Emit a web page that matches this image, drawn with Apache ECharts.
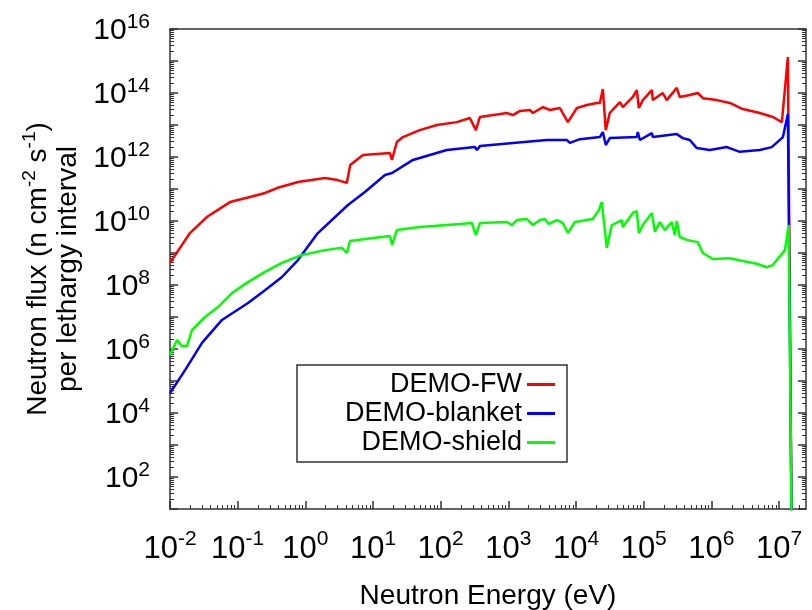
<!DOCTYPE html>
<html>
<head>
<meta charset="utf-8">
<script src="https://cdn.jsdelivr.net/npm/echarts@6/dist/echarts.min.js"></script>
<style>
html,body{margin:0;padding:0;background:#fff;}
#chart{width:812px;height:610px;}
</style>
</head>
<body>
<div id="chart"></div>
<script>
// energies in eV, flux per lethargy interval (n cm-2 s-1)
var fwEnergy = [0.01,0.0197,0.035,0.077,0.152,0.253,0.38,0.78,1.95,3.0,4.1,4.6,7.1,17.8,19,22.5,27.7,49,88,173,270,331,380,950,1170,1480,2080,2300,3240,4100,5770,7570,10300,14500,20300,22500,24900,27500,31500,44400,49100,69000,79100,84700,97000,1.32e5,1.36e5,1.91e5,2.19e5,3.08e5,3.41e5,4.8e5,6.3e5,7.5e5,1.2e6,1.87e6,2.91e6,5.2e6,8.1e6,1.1e7,1.35e7,1.54e7];
var fwFlux = [4.9e8,4.2e9,1.33e10,3.9e10,5.6e10,7.5e10,1.07e11,1.66e11,2.2e11,1.9e11,1.55e11,5.6e11,1.15e12,1.33e12,8.1e11,2.95e12,4.2e12,6.9e12,1.0e13,1.23e13,1.66e13,6.9e12,1.78e13,2.37e13,2.04e13,2.75e13,2.95e13,2.37e13,3.6e13,2.95e13,3.4e13,1.23e13,3.4e13,4.2e13,4.9e13,4.9e13,1.33e14,6.9e12,2.37e13,5.2e13,3.6e13,7.5e13,1.23e14,3.4e13,6.0e13,1.23e14,6.0e13,1.0e14,6.0e13,1.45e14,7.5e13,8.7e13,1.0e14,6.9e13,6.0e13,4.9e13,3.16e13,2.37e13,1.78e13,1.23e13,1.33e15,1];

var blanketEnergy = [0.01,0.0107,0.0167,0.0297,0.0586,0.142,0.253,0.451,0.778,1.53,4.26,7.59,15.0,19.1,38.9,123,320,343,380,1170,3710,7310,8110,11400,22500,24900,27500,31500,79100,81800,87700,1.32e5,1.36e5,3.08e5,3.78e5,4.8e5,6.08e5,9.46e5,1.69e6,2.63e6,5.19e6,7.8e6,1.14e7,1.35e7,1.54e7];
var blanketFlux = [4.2e4,5.2e4,2.19e5,1.55e6,8.1e6,2.75e7,6.9e7,1.78e8,6.0e8,4.2e9,3.16e10,8.1e10,2.75e11,3.16e11,8.1e11,1.66e12,2.04e12,1.66e12,2.19e12,2.75e12,3.4e12,3.4e12,2.75e12,3.6e12,4.2e12,6.0e12,2.37e12,3.9e12,4.2e12,6.0e12,3.4e12,5.6e12,4.2e12,5.2e12,3.9e12,3.4e12,1.9e12,1.66e12,2.04e12,1.45e12,1.66e12,2.04e12,4.2e12,2.19e13,1];

var shieldEnergy = [0.01,0.0127,0.015,0.0178,0.0211,0.0329,0.0512,0.0824,0.142,0.253,0.451,0.891,1.95,3.48,4.11,4.56,7.59,17.8,19.1,22.5,49.3,192,289,331,380,950,1130,1340,1880,2300,2920,3460,3960,5200,6380,7570,9600,17700,21700,24000,28500,33800,47500,49100,69000,79100,84700,97000,1.32e5,1.46e5,1.73e5,2.05e5,2.6e5,2.88e5,3.08e5,3.41e5,4.33e5,6.3e5,7.46e5,1.05e6,1.87e6,2.91e6,4.69e6,6.59e6,8.07e6,1.22e7,1.39e7,1.54e7];
var shieldFlux = [6.5e5,1.9e6,1.23e6,1.23e6,3.9e6,1.0e7,2.04e7,5.6e7,1.23e8,2.57e8,4.9e8,8.7e8,1.23e9,1.45e9,1.0e9,2.37e9,2.75e9,3.4e9,1.78e9,5.2e9,6.5e9,8.1e9,8.7e9,3.6e9,8.7e9,9.3e9,7.5e9,1.07e10,1.15e10,7.5e9,1.07e10,1.15e10,8.1e9,1.07e10,8.7e9,4.2e9,9.3e9,1.15e10,2.19e10,3.9e10,1.45e9,7.5e9,1.07e10,6.5e9,1.78e10,2.04e10,4.2e9,7.5e9,1.78e10,4.6e9,9.3e9,5.2e9,9.3e9,3.6e9,1.0e10,3.16e9,2.57e9,2.19e9,1.0e9,6.5e8,6.9e8,5.6e8,4.6e8,3.6e8,4.2e8,1.23e9,7.5e9,1];

var xLabels = [1e-2,1e-1,1e0,1e1,1e2,1e3,1e4,1e5,1e6,1e7];
var yLabels = [1e2,1e4,1e6,1e8,1e10,1e12,1e14,1e16];
var yDecades = [1e1,1e2,1e3,1e4,1e5,1e6,1e7,1e8,1e9,1e10,1e11,1e12,1e13,1e14,1e15,1e16];

var xMin = 0.01, xMax = 2.5e7, yMin = 10, yMax = 1e16;
var FONT = '"Liberation Sans", Arial, sans-serif';

function zip(a, b) {
  var out = [];
  for (var i = 0; i < a.length; i++) out.push([a[i], b[i]]);
  return out;
}
function minors(lo, hi) {
  var out = [];
  for (var n = Math.floor(Math.log10(lo)); n <= Math.ceil(Math.log10(hi)); n++) {
    for (var k = 2; k <= 9; k++) {
      var v = k * Math.pow(10, n);
      if (v > lo && v < hi) out.push(v);
    }
  }
  return out;
}
function powLabel(v) {
  var e = Math.round(Math.log10(v));
  return '{b|10}{s|' + e + '}';
}
function richFor(size, sup, raise) {
  return {
    b: {fontSize: size, fontFamily: FONT, color: '#000', verticalAlign: 'bottom', lineHeight: size},
    s: {fontSize: sup, fontFamily: FONT, color: '#000', verticalAlign: 'bottom', padding: [0, 0, raise, 0]}
  };
}

var axisLine = {show: true, lineStyle: {color: '#333', width: 1.5}};
var hiddenLine = {show: false};

var chart = echarts.init(document.getElementById('chart'), null, {renderer: 'canvas'});

var option = {
  animation: false,
  backgroundColor: '#fff',
  grid: {left: 170, right: 6, top: 29, bottom: 101, containLabel: false, outerBoundsMode: 'none'},
  legend: {
    orient: 'vertical',
    left: 297, top: 365,
    align: 'right',
    padding: [6, 12, 6, 10],
    itemGap: 2,
    icon: 'rect',
    itemWidth: 28, itemHeight: 3,
    borderColor: '#333', borderWidth: 1.5,
    backgroundColor: '#fff',
    formatter: function (name) { return '{n|' + name + '}'; },
    textStyle: {
      rich: {n: {width: 215, align: 'right', fontSize: 27, fontFamily: FONT, color: '#000', lineHeight: 29}}
    },
    data: ['DEMO-FW', 'DEMO-blanket', 'DEMO-shield']
  },
  xAxis: [
    {
      type: 'log', logBase: 10, min: xMin, max: xMax, position: 'bottom',
      name: 'Neutron Energy (eV)', nameLocation: 'middle', nameGap: 73,
      nameTextStyle: {fontSize: 28, fontFamily: FONT, color: '#000'},
      axisLine: axisLine,
      axisTick: {show: true, inside: true, length: 8, customValues: xLabels, lineStyle: {color: '#333', width: 1.5}},
      axisLabel: {show: true, margin: 20, customValues: xLabels, formatter: powLabel, rich: richFor(31, 21, 15)},
      splitLine: {show: false}
    },
    {
      type: 'log', logBase: 10, min: xMin, max: xMax, position: 'bottom',
      axisLine: hiddenLine,
      axisTick: {show: true, inside: true, length: 4, customValues: minors(xMin, xMax), lineStyle: {color: '#333', width: 1}},
      axisLabel: {show: false}, splitLine: {show: false}
    },
    {
      type: 'log', logBase: 10, min: xMin, max: xMax, position: 'top',
      axisLine: axisLine, axisTick: {show: false}, axisLabel: {show: false}, splitLine: {show: false}
    }
  ],
  yAxis: [
    {
      type: 'log', logBase: 10, min: yMin, max: yMax, position: 'left',
      name: '{a|Neutron flux (n cm}{s|-2}{a| s}{s|-1}{a|)}\n{a|per lethargy interval}',
      nameLocation: 'middle', nameRotate: 90, nameGap: 84,
      nameTextStyle: {
        align: 'center',
        rich: {
          a: {fontSize: 28, fontFamily: FONT, color: '#000', verticalAlign: 'bottom', lineHeight: 30},
          s: {fontSize: 19, fontFamily: FONT, color: '#000', verticalAlign: 'bottom', padding: [0, 0, 13, 0]}
        }
      },
      axisLine: axisLine,
      axisTick: {show: true, inside: true, length: 8, customValues: yDecades, lineStyle: {color: '#333', width: 1.5}},
      axisLabel: {show: true, margin: 20, customValues: yLabels, formatter: powLabel, rich: richFor(30, 21, 13)},
      splitLine: {show: false}
    },
    {
      type: 'log', logBase: 10, min: yMin, max: yMax, position: 'left',
      axisLine: hiddenLine,
      axisTick: {show: true, inside: true, length: 4, customValues: minors(yMin, yMax), lineStyle: {color: '#333', width: 1}},
      axisLabel: {show: false}, splitLine: {show: false}
    },
    {
      type: 'log', logBase: 10, min: yMin, max: yMax, position: 'right',
      axisLine: axisLine,
      axisTick: {show: true, inside: true, length: 8, customValues: yDecades, lineStyle: {color: '#333', width: 1.5}},
      axisLabel: {show: false}, splitLine: {show: false}
    },
    {
      type: 'log', logBase: 10, min: yMin, max: yMax, position: 'right',
      axisLine: hiddenLine,
      axisTick: {show: true, inside: true, length: 4, customValues: minors(yMin, yMax), lineStyle: {color: '#333', width: 1}},
      axisLabel: {show: false}, splitLine: {show: false}
    }
  ],
  series: [
    {name: 'DEMO-FW', type: 'line', xAxisIndex: 0, yAxisIndex: 0, data: zip(fwEnergy, fwFlux),
      symbol: 'none', clip: true, color: '#ff0000', lineStyle: {color: '#ff0000', width: 2.5}},
    {name: 'DEMO-blanket', type: 'line', xAxisIndex: 0, yAxisIndex: 0, data: zip(blanketEnergy, blanketFlux),
      symbol: 'none', clip: true, color: '#0000ff', lineStyle: {color: '#0000ff', width: 2.5}},
    {name: 'DEMO-shield', type: 'line', xAxisIndex: 0, yAxisIndex: 0, data: zip(shieldEnergy, shieldFlux),
      symbol: 'none', clip: true, color: '#00ff00', lineStyle: {color: '#00ff00', width: 2.5}}
  ]
};

chart.setOption(option);
window.onresize = function () { chart.resize(); };
</script>
</body>
</html>
